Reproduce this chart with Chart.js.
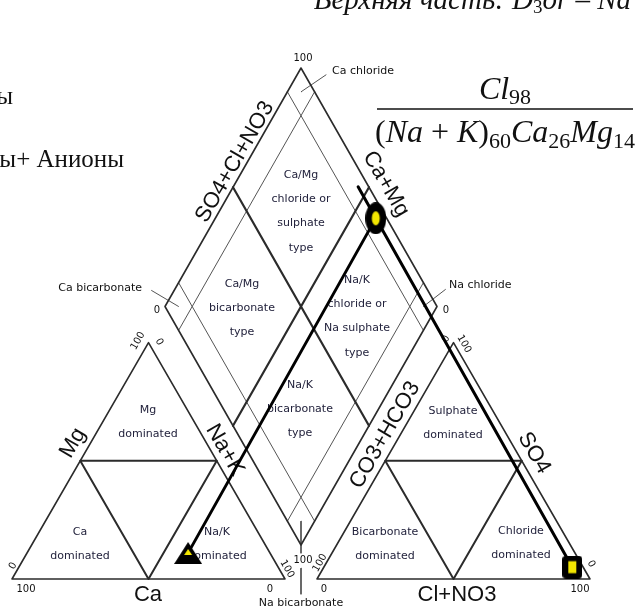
<!DOCTYPE html>
<html><head><meta charset="utf-8">
<script src="https://cdn.jsdelivr.net/npm/chart.js@4.4.1/dist/chart.umd.min.js"></script>
<style>html,body{margin:0;padding:0;background:#fff;overflow:hidden}</style>
</head><body>
<canvas id="c" width="636" height="610"></canvas>
<script>
// ---------- data (meq %) ----------
const cationNames = ['Ca', 'Mg', 'Na+K'];
const cationValues = [30, 11, 59];
const anionNames = ['CO3+HCO3', 'SO4', 'Cl+NO3'];
const anionValues = [4, 5, 91];
const tickLabels = ['0', '100'];
const formulaTop = [['Cl', '98']];
const formulaBottom = [['(Na + K)', '60'], ['Ca', '26'], ['Mg', '14']];

// ---------- layout ----------
const L = { x0: 12, y0: 579, s: 273, gap: 32, bx: 301, by: 545, dw: 136, dh: 238.5 };
L.h = L.s * Math.sqrt(3) / 2;
L.xr = L.x0 + L.s + L.gap;
function catXY(ca, mg, nak) { const t = ca + mg + nak; return { x: L.x0 + L.s * (nak + mg / 2) / t, y: L.y0 - L.h * mg / t }; }
function anXY(hco3, so4, cl) { const t = hco3 + so4 + cl; return { x: L.xr + L.s * (cl + so4 / 2) / t, y: L.y0 - L.h * so4 / t }; }
function diaXY(p, q) { return { x: L.bx + L.dw * (q - p), y: L.by - L.dh * (q + p) }; }

const datasets = [];
function seg(pts, w, color, order) {
  datasets.push({ data: pts, showLine: true, borderColor: color, borderWidth: w, pointRadius: 0,
    pointHoverRadius: 0, fill: false, order: order, borderCapStyle: 'round', borderJoinStyle: 'round' });
}
const EDGE = '#2b2b2b', THIN = '#555';
// left triangle
seg([catXY(100,0,0), catXY(0,0,100), catXY(0,100,0), catXY(100,0,0)], 1.6, EDGE, 10);
seg([catXY(50,50,0), catXY(0,50,50), catXY(50,0,50), catXY(50,50,0)], 2, EDGE, 10);
// right triangle
seg([anXY(100,0,0), anXY(0,0,100), anXY(0,100,0), anXY(100,0,0)], 1.6, EDGE, 10);
seg([anXY(50,50,0), anXY(0,50,50), anXY(50,0,50), anXY(50,50,0)], 2, EDGE, 10);
// diamond
seg([diaXY(0,0), diaXY(0,1), diaXY(1,1), diaXY(1,0), diaXY(0,0)], 1.6, EDGE, 10);
seg([diaXY(0.5,0), diaXY(0.5,1)], 2.2, EDGE, 10);
seg([diaXY(0,0.5), diaXY(1,0.5)], 2.2, EDGE, 10);
[0.1, 0.9].forEach(v => { seg([diaXY(v,0), diaXY(v,1)], 1, THIN, 10); seg([diaXY(0,v), diaXY(1,v)], 1, THIN, 10); });
// leader lines
function off(pt, dx, dy) { return { x: pt.x + dx, y: pt.y + dy }; }
seg([diaXY(0.95,0.95), off(diaXY(0.95,0.95), 25, -17)], 1, THIN, 10);
seg([diaXY(0.95,0.05), off(diaXY(0.95,0.05), -27, -16)], 1, THIN, 10);
seg([diaXY(0.05,0.95), off(diaXY(0.05,0.95), 22, -17)], 1, THIN, 10);
seg([diaXY(0.05,0.05), off(diaXY(0.05,0.05), 0, 32)], 1, THIN, 10);
seg([off(diaXY(0.05,0.05), 0, 47), off(diaXY(0.05,0.05), 0, 73)], 1, THIN, 10);

// sample projection
const cP = catXY(cationValues[0], cationValues[1], cationValues[2]);
const aP = anXY(anionValues[0], anionValues[1], anionValues[2]);
const pD = (cationValues[0] + cationValues[1]) / 100;
const qD = (anionValues[1] + anionValues[2]) / 100;
const dP = diaXY(pD, qD);
seg([cP, dP], 2.8, '#000', 2);
seg([aP, { x: dP.x + (dP.x - aP.x) * 0.09, y: dP.y + (dP.y - aP.y) * 0.09 }], 3, '#000', 2);

function mk(w, h, fn) { const c = document.createElement('canvas'); c.width = w; c.height = h; fn(c.getContext('2d'), w, h); return c; }
const YEL = '#f2e600';
const triMk = mk(28, 22, (g, w, h) => {
  g.fillStyle = '#000'; g.beginPath(); g.moveTo(w/2, 0); g.lineTo(w, h); g.lineTo(0, h); g.closePath(); g.fill();
  g.fillStyle = YEL; g.beginPath(); g.moveTo(w/2, 7); g.lineTo(w/2 + 4, 13); g.lineTo(w/2 - 4, 13); g.closePath(); g.fill();
});
const sqMk = mk(20, 23, (g, w, h) => {
  g.fillStyle = '#000'; g.beginPath(); g.roundRect(0, 0, w, h, 4); g.fill();
  g.fillStyle = YEL; g.fillRect(w/2 - 4, h/2 - 6, 8, 12);
});
const ciMk = mk(21, 32, (g, w, h) => {
  g.fillStyle = '#000'; g.beginPath(); g.ellipse(w/2, h/2, w/2, h/2, 0, 0, Math.PI*2); g.fill();
  g.fillStyle = YEL; g.beginPath(); g.ellipse(w/2, h/2, 4, 7, 0, 0, Math.PI*2); g.fill();
});
function marker(pt, style) { datasets.push({ data: [pt], pointStyle: style, pointRadius: 10, order: 0, showLine: false }); }
marker(cP, triMk); marker(aP, sqMk); marker(dP, ciMk);

// ---------- texts ----------
const SANS = '"Liberation Sans", Arial, sans-serif';
const SMALL = '"DejaVu Sans", Verdana, sans-serif';
const SERIF = '"Liberation Serif", "Times New Roman", serif';
const NAVY = '#22223c';
const ticks = [
  [tickLabels[1], 26, 589, 0], [tickLabels[0], 13, 566, -60], [tickLabels[0], 270, 589, 0], [tickLabels[1], 287, 569, 60],
  [tickLabels[1], 138, 341, -60], [tickLabels[0], 159, 342, 60],
  [tickLabels[0], 324, 589, 0], [tickLabels[1], 320, 563, -60], [tickLabels[1], 580, 589, 0], [tickLabels[0], 591, 564, 60],
  [tickLabels[0], 446, 339, -60], [tickLabels[1], 464, 344, 60],
  [tickLabels[1], 303, 58, 0], [tickLabels[0], 157, 310, 0], [tickLabels[0], 446, 310, 0], [tickLabels[1], 303, 560, 0]
];
const titles = [
  ['Mg', 73, 443, -60], ['Ca', 148, 595, 0], ['Na+K', 225, 450, 60],
  ['CO3+HCO3', 385, 435, -60], ['Cl+NO3', 457, 595, 0], ['SO4', 534, 453, 60],
  ['SO4+Cl+NO3', 235, 162, -60], ['Ca+Mg', 386, 184, 60]
];
const regions = [
  [['Mg', 'dominated'], 148, 410], [['Ca', 'dominated'], 80, 532], [['Na/K', 'dominated'], 217, 532],
  [['Sulphate', 'dominated'], 453, 411], [['Bicarbonate', 'dominated'], 385, 532], [['Chloride', 'dominated'], 521, 531],
  [['Ca/Mg', 'chloride or', 'sulphate', 'type'], 301, 175], [['Ca/Mg', 'bicarbonate', 'type'], 242, 284],
  [['Na/K', 'chloride or', 'Na sulphate', 'type'], 357, 280], [['Na/K', 'bicarbonate', 'type'], 300, 385]
];
const callouts = [['Ca chloride', 332, 71, 'left'], ['Ca bicarbonate', 142, 288, 'right'], ['Na chloride', 449, 285, 'left'], ['Na bicarbonate', 301, 603, 'center']];

function put(ctx, s, x, y, ang, font, color, align) {
  ctx.save(); ctx.translate(x, y); ctx.rotate(ang * Math.PI / 180);
  ctx.font = font; ctx.fillStyle = color; ctx.textAlign = align || 'center'; ctx.textBaseline = 'middle';
  ctx.fillText(s, 0, 0); ctx.restore();
}
function runs(ctx, parts, cx, base) {
  let w = 0; parts.forEach(p => { ctx.font = p.f; p.w = ctx.measureText(p.t).width; w += p.w; });
  let x = cx - w / 2;
  parts.forEach(p => { ctx.font = p.f; ctx.fillStyle = '#111'; ctx.textAlign = 'left'; ctx.textBaseline = 'alphabetic'; ctx.fillText(p.t, x, base + (p.dy || 0)); x += p.w; });
}

const textPlugin = {
  id: 'piperText',
  beforeDraw(chart) { const c = chart.ctx; c.save(); c.fillStyle = '#fff'; c.fillRect(0, 0, chart.width, chart.height); c.restore(); },
  beforeDatasetsDraw(chart) {
    const ctx = chart.ctx, sx = chart.scales.x, sy = chart.scales.y;
    const X = v => sx.getPixelForValue(v), Y = v => sy.getPixelForValue(v);
    ticks.forEach(t => put(ctx, t[0], X(t[1]), Y(t[2]), t[3], '10px ' + SMALL, '#111'));
    titles.forEach(t => put(ctx, t[0], X(t[1]), Y(t[2]), t[3], '22px ' + SANS, '#111'));
    regions.forEach(r => r[0].forEach((s, i) => put(ctx, s, X(r[1]), Y(r[2] + i * 24.3), 0, '11px ' + SMALL, NAVY)));
    callouts.forEach(c => put(ctx, c[0], X(c[1]), Y(c[2]), 0, '11px ' + SMALL, '#111', c[3]));
    // formula
    const I = sz => 'italic ' + sz + 'px ' + SERIF, R = sz => sz + 'px ' + SERIF;
    const M = 32, S = 22;
    const top = []; formulaTop.forEach(f => { top.push({ t: f[0], f: I(M) }); top.push({ t: f[1], f: R(S), dy: 5 }); });
    runs(ctx, top, X(505), Y(99));
    ctx.save(); ctx.strokeStyle = '#111'; ctx.lineWidth = 1.5; ctx.beginPath(); ctx.moveTo(X(377), Y(109)); ctx.lineTo(X(633), Y(109)); ctx.stroke(); ctx.restore();
    const bot = [];
    formulaBottom.forEach(f => {
      const m = f[0].match(/^\((\w+) \+ (\w+)\)$/);
      if (m) { bot.push({ t: '(', f: R(M) }, { t: m[1], f: I(M) }, { t: ' + ', f: R(M) }, { t: m[2], f: I(M) }, { t: ')', f: R(M) }); }
      else bot.push({ t: f[0], f: I(M) });
      bot.push({ t: f[1], f: R(S), dy: 6 });
    });
    runs(ctx, bot, X(505), Y(142));
    // surrounding document text
    ctx.save(); ctx.fillStyle = '#111'; ctx.textBaseline = 'alphabetic';
    ctx.font = R(25); ctx.textAlign = 'right';
    ctx.fillText('Катионы', X(13), Y(104));
    ctx.fillText('Катионы+ Анионы', X(124), Y(167));
    ctx.font = I(29); ctx.textAlign = 'right'; ctx.fillText('Верхняя часть: ', X(512), Y(9));
    ctx.textAlign = 'left'; ctx.fillText('D', X(512), Y(9));
    let xx = X(512) + ctx.measureText('D').width;
    ctx.font = R(19); ctx.fillText('3', xx, Y(13)); xx += ctx.measureText('3').width;
    ctx.font = I(29); ctx.fillText('or – Na', xx, Y(9));
    ctx.restore();
  }
};

new Chart(document.getElementById('c'), {
  type: 'scatter',
  data: { datasets },
  options: {
    responsive: false, animation: false, events: [],
    layout: { padding: 0, autoPadding: false },
    plugins: { legend: { display: false }, tooltip: { enabled: false } },
    scales: {
      x: { type: 'linear', min: 0, max: 636, display: false },
      y: { type: 'linear', min: 0, max: 610, reverse: true, display: false }
    }
  },
  plugins: [textPlugin]
});
</script>
</body></html>
